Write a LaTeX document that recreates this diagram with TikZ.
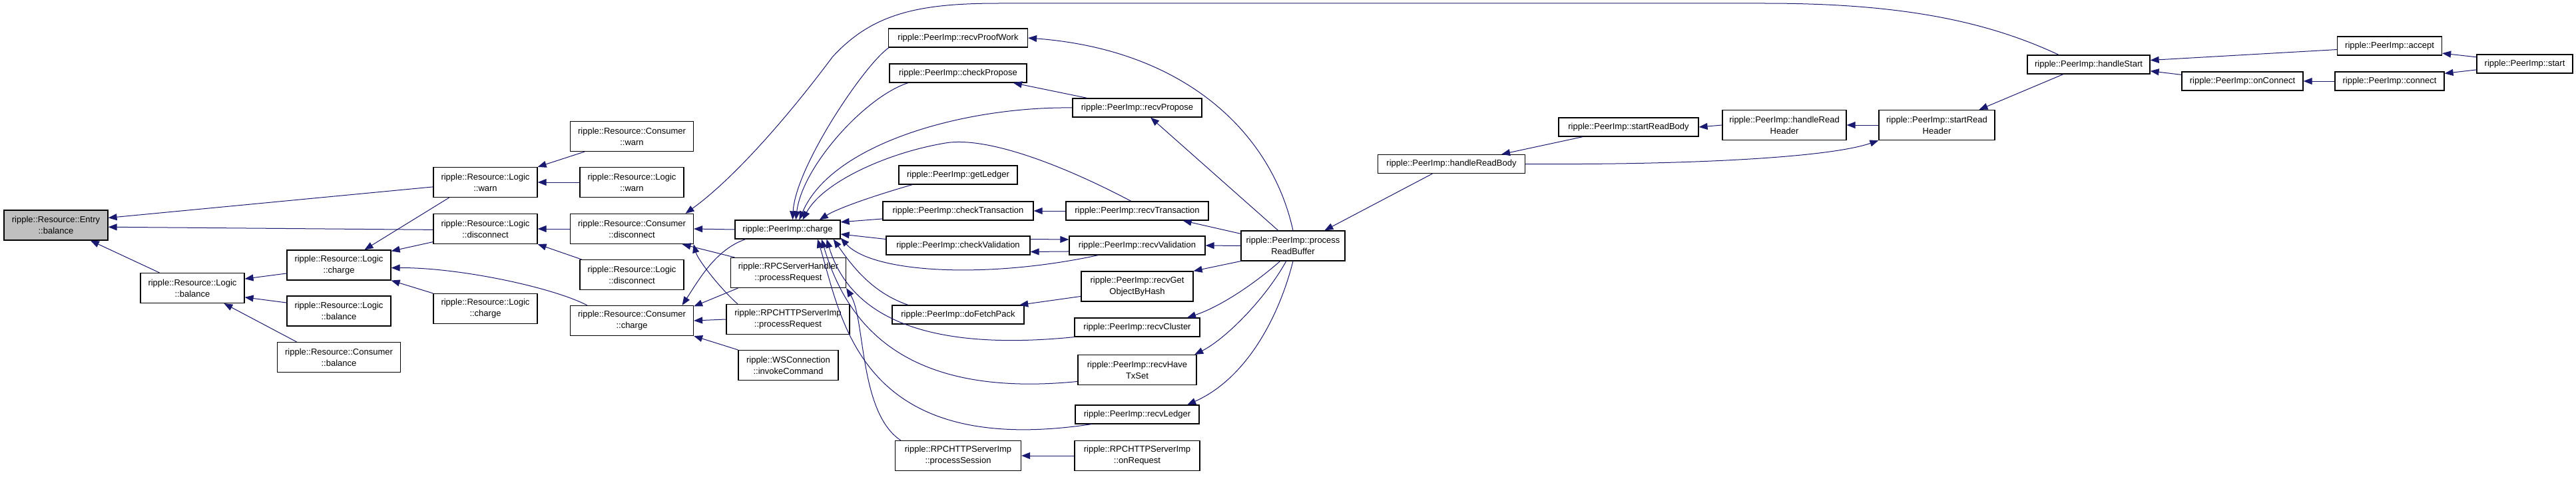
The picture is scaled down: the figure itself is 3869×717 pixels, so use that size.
\documentclass[tikz,border=0pt]{standalone}
\usepackage{fontspec}
\setmainfont{Liberation Sans}
\usetikzlibrary{arrows.meta}
\definecolor{edgeblue}{HTML}{191970}
\definecolor{rootgray}{HTML}{BFBFBF}

\begin{document}
\begin{tikzpicture}[x=1pt, y=-1pt,
  fn/.style={draw=black, fill=white, line width=1.2pt, inner sep=0pt,
    minimum height=28, align=center, font=\fontsize{13}{17}\selectfont},
  fnii/.style={fn, minimum height=45},
  root/.style={fnii, fill=rootgray},
  call/.style={draw=edgeblue, line width=1pt, -{Triangle[length=13pt,width=10pt]}}]
\useasboundingbox (0,0) rectangle (3869,717);
% resource side
\node[root, minimum width=156] (entry) at (84,338.5) {ripple::Resource::Entry\\::balance};
\node[fnii, minimum width=156] (lgbal) at (289,433) {ripple::Resource::Logic\\::balance};
\node[fnii, minimum width=156] (lgchg) at (509,398.5) {ripple::Resource::Logic\\::charge};
\node[fnii, minimum width=156] (lgbal2) at (509,467.5) {ripple::Resource::Logic\\::balance};
\node[fnii, minimum width=185] (csbal) at (509,537) {ripple::Resource::Consumer\\::balance};
\node[fnii, minimum width=156] (lgwarn) at (729,274) {ripple::Resource::Logic\\::warn};
\node[fnii, minimum width=156] (lgdisc) at (729,344) {ripple::Resource::Logic\\::disconnect};
\node[fnii, minimum width=156] (lgchg2) at (729,464) {ripple::Resource::Logic\\::charge};
\node[fnii, minimum width=185] (cswarn) at (949,205) {ripple::Resource::Consumer\\::warn};
\node[fnii, minimum width=156] (lgwarn2) at (949,274) {ripple::Resource::Logic\\::warn};
\node[fnii, minimum width=185] (csdisc) at (949,344) {ripple::Resource::Consumer\\::disconnect};
\node[fnii, minimum width=156] (lgdisc2) at (949,413) {ripple::Resource::Logic\\::disconnect};
\node[fnii, minimum width=185] (cschg) at (949,482) {ripple::Resource::Consumer\\::charge};
% callers of the consumer
\node[fn, minimum width=158] (pchg) at (1183,345) {ripple::PeerImp::charge};
\node[fnii, minimum width=173] (rpcsh) at (1184,410) {ripple::RPCServerHandler\\::processRequest};
\node[fnii, minimum width=185] (rpchttp) at (1183.5,480) {ripple::RPCHTTPServerImp\\::processRequest};
\node[fnii, minimum width=150] (wsinv) at (1184,549) {ripple::WSConnection\\::invokeCommand};
% peer handlers
\node[fn, minimum width=209] (rpw) at (1439,57) {ripple::PeerImp::recvProofWork};
\node[fn, minimum width=206] (chkprop) at (1439,110) {ripple::PeerImp::checkPropose};
\node[fn, minimum width=178] (getl) at (1439,263) {ripple::PeerImp::getLedger};
\node[fn, minimum width=226] (chktx) at (1439,317) {ripple::PeerImp::checkTransaction};
\node[fn, minimum width=216] (chkval) at (1439,369) {ripple::PeerImp::checkValidation};
\node[fn, minimum width=198] (dofp) at (1439,473) {ripple::PeerImp::doFetchPack};
\node[fnii, minimum width=189] (psess) at (1439,685) {ripple::RPCHTTPServerImp\\::processSession};
\node[fn, minimum width=194] (rprop) at (1708,162) {ripple::PeerImp::recvPropose};
\node[fn, minimum width=214] (rtx) at (1708,317) {ripple::PeerImp::recvTransaction};
\node[fn, minimum width=204] (rval) at (1708,369) {ripple::PeerImp::recvValidation};
\node[fnii, minimum width=168] (rgobh) at (1708,430.5) {ripple::PeerImp::recvGet\\ObjectByHash};
\node[fn, minimum width=188] (rclu) at (1708,492) {ripple::PeerImp::recvCluster};
\node[fnii, minimum width=178] (rhts) at (1708,556) {ripple::PeerImp::recvHave\\TxSet};
\node[fn, minimum width=186] (rled) at (1708,623) {ripple::PeerImp::recvLedger};
\node[fnii, minimum width=188] (onreq) at (1708,685) {ripple::RPCHTTPServerImp\\::onRequest};
\node[fnii, minimum width=156] (prb) at (1942,369.5) {ripple::PeerImp::process\\ReadBuffer};
% read loop and start
\node[fn, minimum width=221] (hrb) at (2180,246.5) {ripple::PeerImp::handleReadBody};
\node[fn, minimum width=210] (srb) at (2446,191) {ripple::PeerImp::startReadBody};
\node[fnii, minimum width=186] (hrh) at (2680,188) {ripple::PeerImp::handleRead\\Header};
\node[fnii, minimum width=174] (srh) at (2909,188) {ripple::PeerImp::startRead\\Header};
\node[fn, minimum width=184] (hstart) at (3137,97) {ripple::PeerImp::handleStart};
\node[fn, minimum width=182] (onconn) at (3368,122) {ripple::PeerImp::onConnect};
\node[fn, minimum width=157] (accept) at (3589,69) {ripple::PeerImp::accept};
\node[fn, minimum width=164] (connect) at (3589,122) {ripple::PeerImp::connect};
\node[fn, minimum width=144] (start) at (3792,96) {ripple::PeerImp::start};
% edges into the resource classes
\draw[call] (lgbal.155) -- (entry.-24);
\draw[call] (lgwarn.185) -- (entry.8);
\draw[call] (lgdisc.181) -- (entry.-2);
\draw[call] (lgchg.189) -- (lgbal.10);
\draw[call] (lgbal2.171) -- (lgbal.-10);
\draw[call] (csbal.160) -- (lgbal.-26);
\draw[call] (lgwarn.203) -- (lgchg.31);
\draw[call] (lgdisc.194) -- (lgchg.15);
\draw[call] (cschg.161) .. controls (830,432) and (690,402) .. (lgchg.-3);
\draw[call] (lgchg2.north west) -- (lgchg.south east);
\draw[call] (cswarn.-162) -- (lgwarn.north east);
\draw[call] (lgwarn2.west) -- (lgwarn.east);
\draw[call] (csdisc.west) -- (lgdisc.east);
\draw[call] (lgdisc2.163) -- (lgdisc.south east);
\draw[call] (pchg.west) -- (csdisc.east);
\draw[call] (rpcsh.164) -- (csdisc.-17);
\draw[call] (rpchttp.163) .. controls (1080,432) and (1048,390) .. (csdisc.-14);
\draw[call] (hstart.162) .. controls (2980,30) and (2850,5) .. (2650,5) -- (1500,5)
  .. controls (1380,5) and (1310,20) .. (1250,86) .. controls (1180,180) and (1100,270) .. (csdisc.16);
\draw[call] (pchg.-167) .. controls (1075,375) and (1050,420) .. (cschg.17);
\draw[call] (rpcsh.-163) -- (cschg.13);
\draw[call] (rpchttp.west) -- (cschg.east);
\draw[call] (wsinv.north west) -- (cschg.south east);
% edges into PeerImp::charge
\draw[call] (rpw.188) .. controls (1300,95) and (1195,250) .. (pchg.63);
\draw[call] (chkprop.-169) .. controls (1300,145) and (1205,250) .. (pchg.50);
\draw[call] (rprop.west) .. controls (1450,160) and (1250,215) .. (pchg.40);
\draw[call] (rtx.122) .. controls (1590,245) and (1480,205) .. (1420,215)
  .. controls (1330,230) and (1235,275) .. (pchg.33);
\draw[call] (getl.-168) .. controls (1320,292) and (1260,312) .. (pchg.17);
\draw[call] (chktx.-174) -- (pchg.8);
\draw[call] (chkval.175) -- (pchg.-5);
\draw[call] (rval.-166) .. controls (1480,420) and (1310,410) .. (pchg.-9);
\draw[call] (dofp.169) .. controls (1310,440) and (1280,400) .. (pchg.-12);
\draw[call] (rclu.south west) .. controls (1380,530) and (1275,470) .. (pchg.-14);
\draw[call] (rhts.191) .. controls (1350,600) and (1270,480) .. (pchg.-16);
\draw[call] (rled.-168) .. controls (1290,690) and (1265,480) .. (pchg.-18);
\draw[call] (psess.165) .. controls (1290,620) and (1300,480) .. (rpcsh.south east);
% edges out of processReadBuffer
\draw[call] (prb.north) .. controls (1910,200) and (1780,75) .. (rpw.east);
\draw[call] (rprop.169) -- (chkprop.-10);
\draw[call] (prb.134) -- (rprop.-36);
\draw[call] (prb.167) -- (rtx.-12);
\draw[call] (rtx.west) -- (chktx.east);
\draw[call] (chkval.5) -- (rval.175);
\draw[call] (rval.185) -- (chkval.-5);
\draw[call] (prb.west) -- (rval.east);
\draw[call] (prb.south west) -- (rgobh.north east);
\draw[call] (rgobh.190) -- (dofp.9);
\draw[call] (prb.-130) .. controls (1880,430) and (1830,462) .. (rclu.11);
\draw[call] (prb.-114) .. controls (1900,450) and (1840,510) .. (rhts.15);
\draw[call] (prb.south) .. controls (1920,480) and (1870,570) .. (rled.11);
\draw[call] (onreq.west) -- (psess.east);
% read loop and start
\draw[call] (hrb.-153) -- (prb.26);
\draw[call] (srb.-168) -- (hrb.11);
\draw[call] (hrh.west) -- (srb.east);
\draw[call] (srh.west) -- (hrh.east);
\draw[call] (hrb.east) .. controls (2550,248) and (2750,236) .. (srh.south west);
\draw[call] (hstart.-159) -- (srh.20);
\draw[call] (accept.184) -- (hstart.4);
\draw[call] (onconn.174) -- (hstart.-6);
\draw[call] (connect.west) -- (onconn.east);
\draw[call] (start.172) -- (accept.-8);
\draw[call] (start.187) -- (connect.8);
\end{tikzpicture}
\end{document}
